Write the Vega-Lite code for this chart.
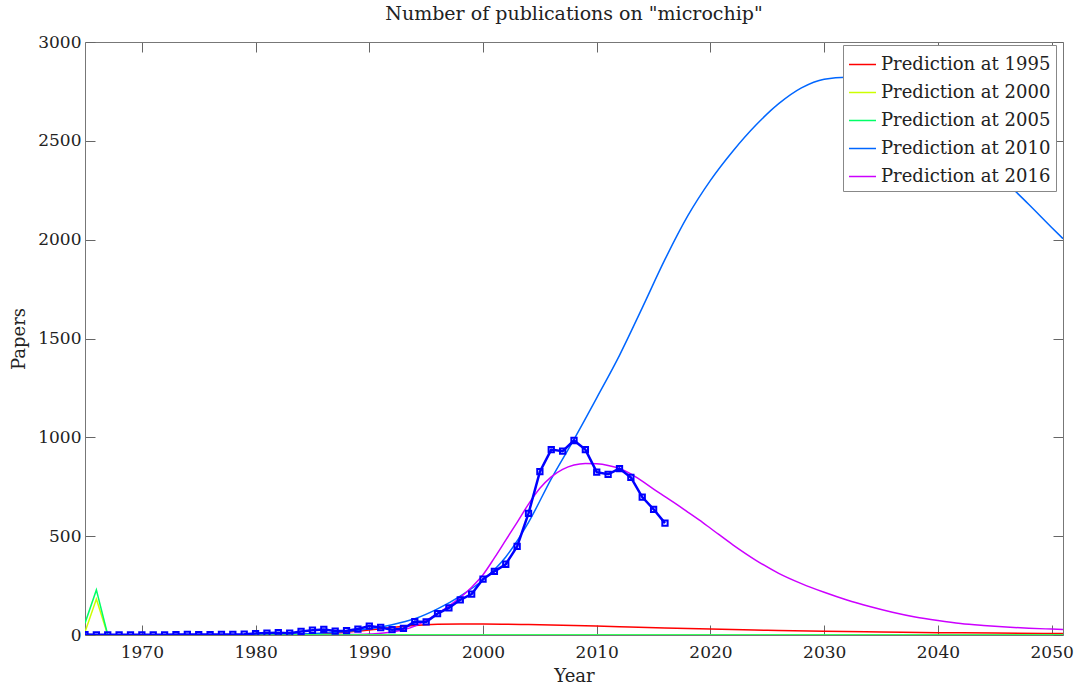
{
  "$schema": "https://vega.github.io/schema/vega-lite/v6.json",
  "width": 978,
  "height": 593,
  "autosize": {"type": "none"},
  "padding": {"left": 85, "top": 42, "right": 15, "bottom": 56},
  "background": "white",
  "title": {"text": "Number of publications on \"microchip\"", "font": "DejaVu Serif", "fontSize": 19, "fontWeight": "normal", "color": "#222222", "offset": 9},
  "config": {
    "view": {"stroke": null},
    "axis": {"domainColor": "#777777", "tickColor": "#666666", "tickSize": -10, "labelFont": "DejaVu Serif", "labelFontSize": 17, "labelColor": "#222222", "titleFont": "DejaVu Serif", "titleFontSize": 18, "titleFontWeight": "normal", "titleColor": "#222222", "grid": false, "labelFlush": false, "labelOverlap": false, "labelBound": false}
  },
  "datasets": {
    "pred": [
      {"series": "Prediction at 1995", "year": 1965, "papers": 0},
      {"series": "Prediction at 1995", "year": 1975, "papers": 0},
      {"series": "Prediction at 1995", "year": 1982, "papers": 0.5},
      {"series": "Prediction at 1995", "year": 1984, "papers": 3},
      {"series": "Prediction at 1995", "year": 1986, "papers": 7},
      {"series": "Prediction at 1995", "year": 1988, "papers": 14},
      {"series": "Prediction at 1995", "year": 1990, "papers": 25},
      {"series": "Prediction at 1995", "year": 1992, "papers": 38},
      {"series": "Prediction at 1995", "year": 1994, "papers": 48},
      {"series": "Prediction at 1995", "year": 1996, "papers": 54},
      {"series": "Prediction at 1995", "year": 1998, "papers": 56},
      {"series": "Prediction at 1995", "year": 2000, "papers": 56},
      {"series": "Prediction at 1995", "year": 2004, "papers": 53},
      {"series": "Prediction at 1995", "year": 2008, "papers": 48},
      {"series": "Prediction at 1995", "year": 2012, "papers": 42},
      {"series": "Prediction at 1995", "year": 2016, "papers": 36},
      {"series": "Prediction at 1995", "year": 2020, "papers": 30},
      {"series": "Prediction at 1995", "year": 2025, "papers": 24},
      {"series": "Prediction at 1995", "year": 2030, "papers": 19},
      {"series": "Prediction at 1995", "year": 2035, "papers": 15},
      {"series": "Prediction at 1995", "year": 2040, "papers": 12},
      {"series": "Prediction at 1995", "year": 2045, "papers": 10},
      {"series": "Prediction at 1995", "year": 2050, "papers": 8},
      {"series": "Prediction at 1995", "year": 2051, "papers": 8},

      {"series": "Prediction at 2010", "year": 1965, "papers": 0},
      {"series": "Prediction at 2010", "year": 1975, "papers": 0},
      {"series": "Prediction at 2010", "year": 1980, "papers": 1},
      {"series": "Prediction at 2010", "year": 1982, "papers": 2},
      {"series": "Prediction at 2010", "year": 1984, "papers": 5},
      {"series": "Prediction at 2010", "year": 1986, "papers": 10},
      {"series": "Prediction at 2010", "year": 1988, "papers": 18},
      {"series": "Prediction at 2010", "year": 1990, "papers": 32},
      {"series": "Prediction at 2010", "year": 1992, "papers": 52},
      {"series": "Prediction at 2010", "year": 1994, "papers": 82},
      {"series": "Prediction at 2010", "year": 1996, "papers": 132},
      {"series": "Prediction at 2010", "year": 1998, "papers": 197},
      {"series": "Prediction at 2010", "year": 2000, "papers": 278},
      {"series": "Prediction at 2010", "year": 2002, "papers": 395},
      {"series": "Prediction at 2010", "year": 2004, "papers": 570},
      {"series": "Prediction at 2010", "year": 2006, "papers": 790},
      {"series": "Prediction at 2010", "year": 2008, "papers": 990},
      {"series": "Prediction at 2010", "year": 2010, "papers": 1200},
      {"series": "Prediction at 2010", "year": 2012, "papers": 1415},
      {"series": "Prediction at 2010", "year": 2014, "papers": 1655},
      {"series": "Prediction at 2010", "year": 2016, "papers": 1900},
      {"series": "Prediction at 2010", "year": 2018, "papers": 2120},
      {"series": "Prediction at 2010", "year": 2020, "papers": 2300},
      {"series": "Prediction at 2010", "year": 2022, "papers": 2450},
      {"series": "Prediction at 2010", "year": 2024, "papers": 2580},
      {"series": "Prediction at 2010", "year": 2026, "papers": 2688},
      {"series": "Prediction at 2010", "year": 2028, "papers": 2768},
      {"series": "Prediction at 2010", "year": 2030, "papers": 2812},
      {"series": "Prediction at 2010", "year": 2032, "papers": 2822},
      {"series": "Prediction at 2010", "year": 2034, "papers": 2800},
      {"series": "Prediction at 2010", "year": 2036, "papers": 2750},
      {"series": "Prediction at 2010", "year": 2038, "papers": 2680},
      {"series": "Prediction at 2010", "year": 2040, "papers": 2600},
      {"series": "Prediction at 2010", "year": 2042, "papers": 2505},
      {"series": "Prediction at 2010", "year": 2044, "papers": 2400},
      {"series": "Prediction at 2010", "year": 2046, "papers": 2290},
      {"series": "Prediction at 2010", "year": 2048, "papers": 2178},
      {"series": "Prediction at 2010", "year": 2050, "papers": 2062},
      {"series": "Prediction at 2010", "year": 2051, "papers": 2005},

      {"series": "Prediction at 2016", "year": 1965, "papers": 0},
      {"series": "Prediction at 2016", "year": 1980, "papers": 0},
      {"series": "Prediction at 2016", "year": 1986, "papers": 0.5},
      {"series": "Prediction at 2016", "year": 1988, "papers": 2},
      {"series": "Prediction at 2016", "year": 1990, "papers": 5},
      {"series": "Prediction at 2016", "year": 1992, "papers": 15},
      {"series": "Prediction at 2016", "year": 1994, "papers": 45},
      {"series": "Prediction at 2016", "year": 1996, "papers": 108},
      {"series": "Prediction at 2016", "year": 1998, "papers": 190},
      {"series": "Prediction at 2016", "year": 1999, "papers": 242},
      {"series": "Prediction at 2016", "year": 2000, "papers": 305},
      {"series": "Prediction at 2016", "year": 2001, "papers": 390},
      {"series": "Prediction at 2016", "year": 2002, "papers": 480},
      {"series": "Prediction at 2016", "year": 2003, "papers": 570},
      {"series": "Prediction at 2016", "year": 2004, "papers": 662},
      {"series": "Prediction at 2016", "year": 2005, "papers": 742},
      {"series": "Prediction at 2016", "year": 2006, "papers": 800},
      {"series": "Prediction at 2016", "year": 2007, "papers": 838},
      {"series": "Prediction at 2016", "year": 2008, "papers": 860},
      {"series": "Prediction at 2016", "year": 2009, "papers": 868},
      {"series": "Prediction at 2016", "year": 2010, "papers": 866},
      {"series": "Prediction at 2016", "year": 2011, "papers": 858},
      {"series": "Prediction at 2016", "year": 2012, "papers": 843},
      {"series": "Prediction at 2016", "year": 2013, "papers": 815},
      {"series": "Prediction at 2016", "year": 2014, "papers": 778},
      {"series": "Prediction at 2016", "year": 2015, "papers": 738},
      {"series": "Prediction at 2016", "year": 2016, "papers": 700},
      {"series": "Prediction at 2016", "year": 2017, "papers": 662},
      {"series": "Prediction at 2016", "year": 2018, "papers": 622},
      {"series": "Prediction at 2016", "year": 2019, "papers": 582},
      {"series": "Prediction at 2016", "year": 2020, "papers": 540},
      {"series": "Prediction at 2016", "year": 2022, "papers": 455},
      {"series": "Prediction at 2016", "year": 2024, "papers": 378},
      {"series": "Prediction at 2016", "year": 2026, "papers": 312},
      {"series": "Prediction at 2016", "year": 2028, "papers": 260},
      {"series": "Prediction at 2016", "year": 2030, "papers": 216},
      {"series": "Prediction at 2016", "year": 2032, "papers": 177},
      {"series": "Prediction at 2016", "year": 2034, "papers": 144},
      {"series": "Prediction at 2016", "year": 2036, "papers": 115},
      {"series": "Prediction at 2016", "year": 2038, "papers": 91},
      {"series": "Prediction at 2016", "year": 2040, "papers": 73},
      {"series": "Prediction at 2016", "year": 2042, "papers": 58},
      {"series": "Prediction at 2016", "year": 2044, "papers": 48},
      {"series": "Prediction at 2016", "year": 2046, "papers": 40},
      {"series": "Prediction at 2016", "year": 2048, "papers": 34},
      {"series": "Prediction at 2016", "year": 2050, "papers": 30},
      {"series": "Prediction at 2016", "year": 2051, "papers": 28}
    ],
    "spike": [
      {"series": "Prediction at 2000", "year": 1965, "papers": 15},
      {"series": "Prediction at 2000", "year": 1966, "papers": 182},
      {"series": "Prediction at 2000", "year": 1967, "papers": 0},
      {"series": "Prediction at 2000", "year": 2051, "papers": 0},
      {"series": "Prediction at 2005", "year": 1965, "papers": 60},
      {"series": "Prediction at 2005", "year": 1966, "papers": 228},
      {"series": "Prediction at 2005", "year": 1967, "papers": 0},
      {"series": "Prediction at 2005", "year": 2051, "papers": 0}
    ],
    "obs": [
      {"year": 1965, "papers": 2}, {"year": 1966, "papers": 1}, {"year": 1967, "papers": 1}, {"year": 1968, "papers": 1},
      {"year": 1969, "papers": 1}, {"year": 1970, "papers": 1}, {"year": 1971, "papers": 1}, {"year": 1972, "papers": 1},
      {"year": 1973, "papers": 2}, {"year": 1974, "papers": 3}, {"year": 1975, "papers": 2}, {"year": 1976, "papers": 2},
      {"year": 1977, "papers": 3}, {"year": 1978, "papers": 3}, {"year": 1979, "papers": 4}, {"year": 1980, "papers": 7},
      {"year": 1981, "papers": 10}, {"year": 1982, "papers": 12}, {"year": 1983, "papers": 9}, {"year": 1984, "papers": 18},
      {"year": 1985, "papers": 24}, {"year": 1986, "papers": 28}, {"year": 1987, "papers": 20}, {"year": 1988, "papers": 22},
      {"year": 1989, "papers": 30}, {"year": 1990, "papers": 45}, {"year": 1991, "papers": 38}, {"year": 1992, "papers": 27},
      {"year": 1993, "papers": 33}, {"year": 1994, "papers": 68}, {"year": 1995, "papers": 66}, {"year": 1996, "papers": 108},
      {"year": 1997, "papers": 137}, {"year": 1998, "papers": 178}, {"year": 1999, "papers": 207}, {"year": 2000, "papers": 283},
      {"year": 2001, "papers": 322}, {"year": 2002, "papers": 358}, {"year": 2003, "papers": 448}, {"year": 2004, "papers": 615},
      {"year": 2005, "papers": 826}, {"year": 2006, "papers": 938}, {"year": 2007, "papers": 930}, {"year": 2008, "papers": 984},
      {"year": 2009, "papers": 938}, {"year": 2010, "papers": 824}, {"year": 2011, "papers": 813}, {"year": 2012, "papers": 842},
      {"year": 2013, "papers": 797}, {"year": 2014, "papers": 698}, {"year": 2015, "papers": 636}, {"year": 2016, "papers": 566}
    ]
  },
  "layer": [
    {
      "data": {"name": "pred"},
      "mark": {"type": "line", "interpolate": "monotone", "strokeWidth": 1.5, "clip": true},
      "encoding": {
        "x": {"field": "year", "type": "quantitative", "scale": {"domain": [1965, 2051], "nice": false, "zero": false},
          "axis": {"orient": "bottom", "values": [1970, 1980, 1990, 2000, 2010, 2020, 2030, 2040, 2050], "format": "d", "labelPadding": 19, "title": "Year", "titlePadding": 7}},
        "y": {"field": "papers", "type": "quantitative", "scale": {"domain": [0, 3000], "nice": false},
          "axis": {"orient": "left", "values": [0, 500, 1000, 1500, 2000, 2500, 3000], "format": "d", "labelPadding": 14, "title": "Papers", "titlePadding": 9}},
        "color": {"field": "series", "type": "nominal",
          "scale": {"domain": ["Prediction at 1995", "Prediction at 2000", "Prediction at 2005", "Prediction at 2010", "Prediction at 2016"],
                    "range": ["#ff0000", "#ccff00", "#00ff66", "#0066ff", "#cc00ff"]},
          "legend": {"orient": "none", "legendX": 758, "legendY": 3, "title": null, "symbolType": "stroke", "symbolSize": 729, "symbolStrokeWidth": 1.5,
            "labelFont": "DejaVu Serif", "labelFontSize": 18, "labelColor": "#222222", "labelOffset": 4, "strokeColor": "#888888", "fillColor": "white",
            "padding": 5, "rowPadding": 4, "labelLimit": 300}}
      }
    },
    {
      "data": {"name": "spike"},
      "mark": {"type": "line", "interpolate": "linear", "strokeWidth": 1.5, "clip": true},
      "encoding": {
        "x": {"field": "year", "type": "quantitative", "axis": null},
        "y": {"field": "papers", "type": "quantitative", "axis": null},
        "color": {"field": "series", "type": "nominal"}
      }
    },
    {
      "data": {"name": "obs"},
      "mark": {"type": "line", "color": "#0000ff", "strokeWidth": 2.5, "clip": true},
      "encoding": {
        "x": {"field": "year", "type": "quantitative",
          "axis": {"orient": "top", "values": [1970, 1980, 1990, 2000, 2010, 2020, 2030, 2040, 2050], "labels": false, "title": null}},
        "y": {"field": "papers", "type": "quantitative",
          "axis": {"orient": "right", "values": [0, 500, 1000, 1500, 2000, 2500, 3000], "labels": false, "title": null}}
      }
    },
    {
      "data": {"name": "obs"},
      "mark": {"type": "point", "shape": "square", "filled": false, "color": "#0000ff", "strokeWidth": 2, "size": 28, "opacity": 1, "clip": true},
      "encoding": {
        "x": {"field": "year", "type": "quantitative", "axis": null},
        "y": {"field": "papers", "type": "quantitative", "axis": null}
      }
    }
  ],
  "resolve": {"axis": {"x": "independent", "y": "independent"}}
}
